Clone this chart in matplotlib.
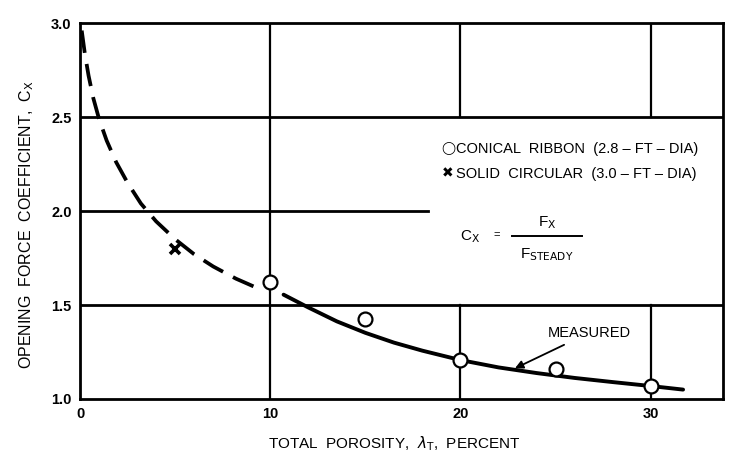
import matplotlib
matplotlib.use("Agg")
import matplotlib.pyplot as plt

plt.rcParams['font.family'] = ['Liberation Sans', 'DejaVu Sans']

# Data
ribbon_x = [10, 15, 20, 25, 30]
ribbon_y = [1.62, 1.424, 1.207, 1.158, 1.069]
solid_x = [5]
solid_y = [1.80]

dashed_x = [0.09, 0.25, 0.45, 0.7, 1.0, 1.4, 1.9, 2.5, 3.2, 4.0, 5.0, 6.0, 7.0, 8.2, 9.55]
dashed_y = [2.96, 2.84, 2.72, 2.60, 2.49, 2.375, 2.26, 2.15, 2.04, 1.945, 1.85, 1.77,
            1.705, 1.64, 1.58]
measured_x = [10.7, 12.0, 13.5, 15.0, 16.5, 18.0, 20.0, 22.0, 24.0, 26.0, 28.0, 30.0, 31.7]
measured_y = [1.555, 1.487, 1.413, 1.352, 1.30, 1.257, 1.207, 1.168, 1.138, 1.112,
              1.09, 1.069, 1.05]

xticks = [0, 10, 20, 30]
yticks = [1.0, 1.5, 2.0, 2.5, 3.0]
ytick_labels = ["1.0", "1.5", "2.0", "2.5", "3.0"]

fig = plt.figure(figsize=(7.45, 4.61), dpi=100)
ax = fig.add_axes([0.1074, 0.1345, 0.8631, 0.8155])
ax.set_xlim(0, 33.8)
ax.set_ylim(1.0, 3.0)

for s in ax.spines.values():
    s.set_linewidth(2.0)
    s.set_color('black')

ax.set_xticks(xticks)
ax.set_xticklabels([str(t) for t in xticks], fontsize=10.5, fontweight='bold')
ax.set_yticks(yticks)
ax.set_yticklabels(ytick_labels, fontsize=10.5, fontweight='bold')
ax.tick_params(length=0, pad=6)

# grid lines
lw = 1.6
ax.axvline(10, color='black', lw=lw)
for xv in (20, 30):
    ax.plot([xv, xv], [1.0, 1.5], color='black', lw=lw)
    ax.plot([xv, xv], [2.5, 3.0], color='black', lw=lw)
ax.axhline(2.5, color='black', lw=2.0)
ax.axhline(1.5, color='black', lw=2.0)
ax.plot([0, 18.3], [2.0, 2.0], color='black', lw=2.0)

# curves
ax.plot(dashed_x, dashed_y, color='black', lw=2.7, dashes=(6, 3),
        solid_capstyle='butt', dash_capstyle='butt')
ax.plot(measured_x, measured_y, color='black', lw=2.8, solid_capstyle='round')

ax.plot(ribbon_x, ribbon_y, 'o', ms=10, mfc='white', mec='black', mew=1.6, zorder=5)
ax.plot(solid_x, solid_y, 'x', ms=7, mec='black', mew=2.6, zorder=5)

# legend text
fam = ['Liberation Sans', 'DejaVu Sans']
ax.text(19.0, 2.33, "◯", fontsize=9, ha='left', va='center', family=['DejaVu Sans'])
ax.text(19.0, 2.198, "✖", fontsize=10, ha='left', va='center', family=['DejaVu Sans'])
ax.text(19.75, 2.33, "CONICAL  RIBBON  (2.8 – FT – DIA)",
        fontsize=10.5, ha='left', va='center', family=fam)
ax.text(19.75, 2.198, "SOLID  CIRCULAR  (3.0 – FT – DIA)",
        fontsize=10.5, ha='left', va='center', family=fam)

# formula
ax.text(19.97, 1.862, r"C$_{\mathrm{X}}$", fontsize=11, ha='left', va='center')
ax.text(21.9, 1.87, "=", fontsize=8, ha='center', va='center')
ax.plot([22.7, 26.4], [1.867, 1.867], color='black', lw=1.4)
ax.text(24.55, 1.94, r"F$_{\mathrm{X}}$", fontsize=11, ha='center', va='center')
ax.text(24.55, 1.77, r"F$_{\mathrm{STEADY}}$", fontsize=11, ha='center', va='center')

# measured annotation
ax.annotate("MEASURED", xy=(22.86, 1.163), xytext=(24.6, 1.353), fontsize=10.5,
            ha='left', va='center',
            arrowprops=dict(arrowstyle='-|>', color='black', lw=1.3,
                            shrinkA=4, shrinkB=0, mutation_scale=12))

ax.set_xlabel(r"TOTAL  POROSITY,  $\lambda_{\mathrm{T}}$,  PERCENT", fontsize=11)
ax.xaxis.set_label_coords(0.488, -0.095)
ax.set_ylabel(r"OPENING  FORCE  COEFFICIENT,  C$_{\mathrm{X}}$", fontsize=11.5)
ax.yaxis.set_label_coords(-0.068, 0.463)

fig.savefig("out.png", dpi=100)
